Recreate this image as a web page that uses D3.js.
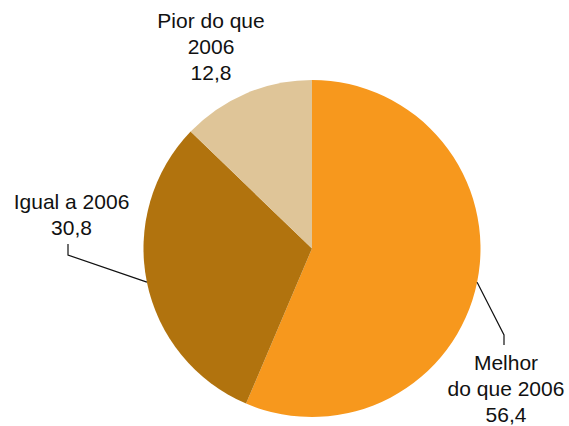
<!DOCTYPE html>
<html>
<head>
<meta charset="utf-8">
<script src="https://cdn.jsdelivr.net/npm/d3@7"></script>
<style>
  body { margin: 0; background: #fff; }
  text { font-family: "Liberation Sans", Arial, sans-serif; font-size: 21px; fill: #111; }
</style>
</head>
<body>
<svg id="chart" width="569" height="426"></svg>
<script>
// data
var categories = ['Melhor do que 2006', 'Igual a 2006', 'Pior do que 2006']
var values = [56.4, 30.8, 12.8]
var valueLabels = ['56,4', '30,8', '12,8']
var colors = ['#F7981D', '#B1730E', '#DFC598']

var svg = d3.select('#chart')
var cx = 312
var cy = 248.5
var radius = 168.5

var pie = d3.pie()
    .value(d => d.value)
    .sort(null)

var arc = d3.arc()
    .innerRadius(0)
    .outerRadius(radius)

var series = categories.map((c, i) => ({name: c, value: values[i], label: valueLabels[i], color: colors[i]}))
var slices = pie(series)

var g = svg.append('g')
    .attr('transform', `translate(${cx},${cy})`)

g.selectAll('.slice')
  .data(slices)
  .enter()
  .append('path')
  .classed('slice', true)
  .attr('d', arc)
  .style('fill', d => d.data.color)

// label layout: text lines, anchor and optional leader elbow (relative to centre)
var layout = [
  {lines: ['Melhor', 'do que 2006'], x: 194, y: 121.5, elbow: [[192, 86.5], [192, 96.5]]},
  {lines: ['Igual a 2006'], x: -240.5, y: -39.5, elbow: [[-244, 6.5], [-244, -4.5]]},
  {lines: ['Pior do que', '2006'], x: -101, y: -220.5, elbow: null}
]

slices.forEach(function (d, i) {
  var lay = layout[i]
  var a = (d.startAngle + d.endAngle) / 2
  var p = [radius * Math.sin(a), -radius * Math.cos(a)]

  if (lay.elbow) {
    g.append('path')
      .attr('d', d3.line()([p].concat(lay.elbow)))
      .style('fill', 'none')
      .style('stroke', '#111')
      .style('stroke-width', 1.2)
  }

  var t = g.append('text')
    .attr('text-anchor', 'middle')
  lay.lines.concat([d.data.label]).forEach(function (s, k) {
    t.append('tspan')
      .attr('x', lay.x)
      .attr('y', lay.y + k * 26)
      .text(s)
  })
})
</script>
</body>
</html>
